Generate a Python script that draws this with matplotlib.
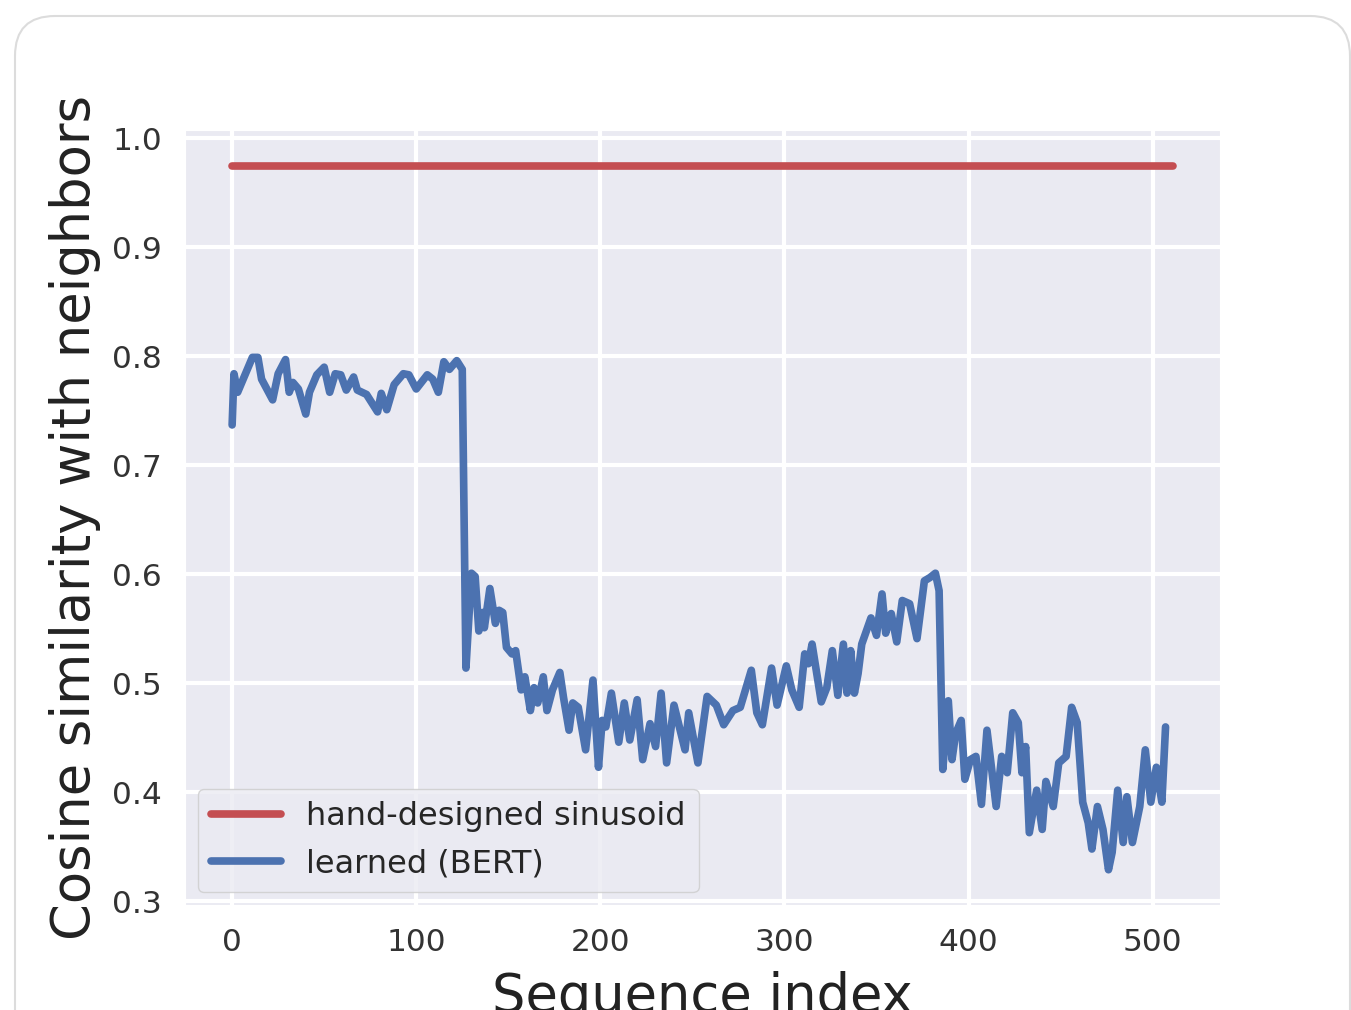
import matplotlib
matplotlib.use("Agg")
import matplotlib.pyplot as plt
import seaborn as sns
from matplotlib.patches import FancyBboxPatch

# values
sinusoid_x = [0, 511]
sinusoid_y = [0.975, 0.975]

bert_x = [0, 1, 3, 6, 11, 14, 16, 22, 25, 29, 31, 33, 36, 40, 42, 46, 50, 53, 56, 59,
          62, 66, 68, 73, 79, 81, 84, 88, 93, 96, 100, 106, 109, 112, 115, 118, 122, 125,
          127, 130, 132, 134, 136, 137, 140, 143, 145, 147, 149, 152, 154, 157, 159, 162,
          164, 166, 169, 171, 174, 178, 180, 183, 185, 188, 192, 196, 199, 201, 203, 206,
          210, 213, 216, 220, 223, 227, 230, 233, 236, 240, 246, 248, 253, 258, 263, 267,
          272, 276, 282, 285, 288, 293, 296, 301, 304, 308, 311, 313, 315, 320, 323, 326,
          329, 332, 334, 336, 338, 340, 342, 347, 350, 353, 355, 358, 361, 364, 368, 372,
          376, 379, 382, 384, 386, 389, 391, 393, 396, 398, 401, 404, 407, 410, 415, 418,
          421, 424, 427, 429, 431, 433, 437, 440, 442, 446, 449, 453, 456, 459, 462, 465,
          467, 470, 473, 476, 478, 481, 484, 486, 489, 493, 496, 499, 502, 505, 507]
bert_y = [0.737, 0.784, 0.767, 0.779, 0.799, 0.799, 0.779, 0.760, 0.784, 0.797, 0.767,
          0.776, 0.770, 0.747, 0.767, 0.783, 0.790, 0.767, 0.784, 0.783, 0.769, 0.781,
          0.769, 0.765, 0.749, 0.766, 0.751, 0.774, 0.784, 0.783, 0.770, 0.783, 0.779,
          0.767, 0.795, 0.788, 0.796, 0.788, 0.514, 0.601, 0.598, 0.548, 0.565, 0.551,
          0.587, 0.555, 0.567, 0.565, 0.533, 0.527, 0.530, 0.494, 0.506, 0.475, 0.496,
          0.482, 0.506, 0.475, 0.494, 0.510, 0.487, 0.457, 0.482, 0.478, 0.439, 0.503,
          0.423, 0.466, 0.460, 0.491, 0.446, 0.482, 0.448, 0.485, 0.430, 0.463, 0.442,
          0.491, 0.427, 0.480, 0.439, 0.473, 0.427, 0.488, 0.480, 0.462, 0.475, 0.478,
          0.512, 0.473, 0.462, 0.514, 0.480, 0.516, 0.494, 0.478, 0.527, 0.518, 0.536,
          0.483, 0.496, 0.530, 0.489, 0.536, 0.491, 0.530, 0.491, 0.509, 0.536, 0.560,
          0.544, 0.582, 0.546, 0.564, 0.538, 0.576, 0.573, 0.541, 0.594, 0.597, 0.601,
          0.585, 0.421, 0.484, 0.430, 0.454, 0.466, 0.412, 0.430, 0.433, 0.389, 0.457,
          0.387, 0.433, 0.418, 0.473, 0.464, 0.418, 0.442, 0.363, 0.402, 0.366, 0.410,
          0.387, 0.427, 0.433, 0.478, 0.464, 0.391, 0.372, 0.348, 0.387, 0.366, 0.329,
          0.345, 0.402, 0.354, 0.396, 0.354, 0.387, 0.439, 0.391, 0.423, 0.391, 0.460]

sns.set_style("darkgrid")
plt.rcParams['font.family'] = ['DejaVu Sans']

fig = plt.figure(figsize=(13.51, 10.10), dpi=100)

# rounded card around the chart
card = FancyBboxPatch((0.15, -0.6), 13.35, 10.54,
                      boxstyle="round,pad=0,rounding_size=0.4",
                      transform=fig.dpi_scale_trans, facecolor="white",
                      edgecolor="#dcdcdc", linewidth=1.5, zorder=-10)
fig.patches.append(card)

ax = fig.add_axes([0.137, 0.104, 0.766, 0.767])
ax.plot(sinusoid_x, sinusoid_y, color="#C44E52", lw=5.5, label="hand-designed sinusoid")
ax.plot(bert_x, bert_y, color="#4C72B0", lw=5.5, label="learned (BERT)")

ax.set_xticks([0, 100, 200, 300, 400, 500])
ax.set_yticks([0.3, 0.4, 0.5, 0.6, 0.7, 0.8, 0.9, 1.0])
ax.tick_params(labelsize=22.5, pad=13, labelcolor="#333333")
ax.grid(color="white", linewidth=3)
ax.set_xlabel("Sequence index", fontsize=38, color="#222222", labelpad=10)
ax.set_ylabel("Cosine similarity with neighbors", fontsize=38, color="#222222", labelpad=8)

ax.legend(loc="lower left", fontsize=23, borderaxespad=0.4, handlelength=2.2,
          handletextpad=0.8, framealpha=0.8, edgecolor="#cccccc")

fig.savefig("out.png", dpi=100)
